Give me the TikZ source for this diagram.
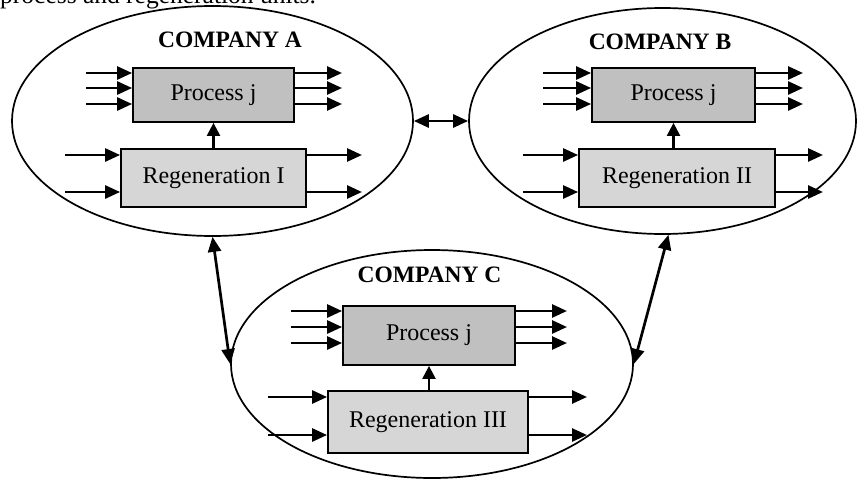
\documentclass[tikz,border=0pt]{standalone}
\usepackage{fontspec}
\setmainfont{Liberation Serif}
\usetikzlibrary{arrows.meta,shapes.geometric}
\definecolor{procfill}{RGB}{192,192,192}
\definecolor{regfill}{RGB}{214,214,214}
\tikzset{
  comp/.style={draw, ellipse, line width=1.7pt, inner sep=0pt},
  procbox/.style={draw, fill=procfill, line width=1.8pt, inner sep=0pt, font=\fontsize{24}{28}\selectfont},
  regbox/.style={draw, fill=regfill, line width=1.8pt, inner sep=0pt, font=\fontsize{24}{28}\selectfont},
  flow/.style={line width=2.7pt, -{Triangle[length=15pt,width=13pt]}},
  link/.style={line width=2.7pt, {Triangle[length=15pt,width=13pt]}-{Triangle[length=15pt,width=13pt]}},
  uparrow/.style={line width=2.3pt, -{Triangle[length=13pt,width=13pt]}},
  title/.style={font=\bfseries\fontsize{23.5}{26}\selectfont, anchor=base, inner sep=0pt},
  captext/.style={font=\fontsize{25.5}{28}\selectfont, anchor=base west, inner sep=0pt}
}
\begin{document}
\begin{tikzpicture}[x=1pt,y=-1pt]
\useasboundingbox (0,0) rectangle (858,479);
\clip (0,0) rectangle (858,479);
\node[captext] (cap) at (0,4) {process and regeneration units.};

% companies
\node[comp, minimum width=401pt, minimum height=230pt] (A) at (212.5,121) {};
\node[comp, minimum width=387pt, minimum height=226pt] (B) at (662.5,121) {};
\node[comp, minimum width=402pt, minimum height=228pt] (C) at (432,364) {};

\node[title] (tA) at (230,47) {COMPANY A};
\node[title] (tB) at (660,49) {COMPANY B};
\node[title] (tC) at (429.5,282) {COMPANY C};

% boxes
\node[procbox, minimum width=161pt, minimum height=54pt] (pA) at (213.5,95) {Process j};
\node[regbox, minimum width=185pt, minimum height=58pt] (rA) at (213.5,178) {Regeneration I};
\node[procbox, minimum width=163pt, minimum height=54pt] (pB) at (673.5,95) {Process j};
\node[regbox, minimum width=196pt, minimum height=58pt] (rB) at (677,178) {Regeneration II};
\node[procbox, minimum width=172pt, minimum height=59pt] (pC) at (429,335.5) {Process j};
\node[regbox, minimum width=200pt, minimum height=62pt] (rC) at (428,422) {Regeneration III};

% process flows
\foreach \y [count=\i] in {73,88,104} {
  \coordinate (aPi\i) at (86,\y);
  \coordinate (aPo\i) at (342,\y);
  \draw[flow] (aPi\i) -- (aPi\i -| pA.west);
  \draw[flow] (aPo\i -| pA.east) -- (aPo\i);
  \coordinate (bPi\i) at (543,\y);
  \coordinate (bPo\i) at (803,\y);
  \draw[flow] (bPi\i) -- (bPi\i -| pB.west);
  \draw[flow] (bPo\i -| pB.east) -- (bPo\i);
}
\foreach \y [count=\i] in {311,327,343} {
  \coordinate (cPi\i) at (291,\y);
  \coordinate (cPo\i) at (567,\y);
  \draw[flow] (cPi\i) -- (cPi\i -| pC.west);
  \draw[flow] (cPo\i -| pC.east) -- (cPo\i);
}
% regeneration flows
\foreach \y [count=\i] in {155,192} {
  \coordinate (aRi\i) at (65,\y);
  \coordinate (aRo\i) at (362,\y);
  \draw[flow] (aRi\i) -- (aRi\i -| rA.west);
  \draw[flow] (aRo\i -| rA.east) -- (aRo\i);
  \coordinate (bRi\i) at (523,\y);
  \coordinate (bRo\i) at (823,\y);
  \draw[flow] (bRi\i) -- (bRi\i -| rB.west);
  \draw[flow] (bRo\i -| rB.east) -- (bRo\i);
}
\foreach \y [count=\i] in {397,435} {
  \coordinate (cRi\i) at (268,\y);
  \coordinate (cRo\i) at (587,\y);
  \draw[flow] (cRi\i) -- (cRi\i -| rC.west);
  \draw[flow] (cRo\i -| rC.east) -- (cRo\i);
}

% regeneration to process
\draw[uparrow] (rA.north) -- (pA.south);
\draw[uparrow] (pB.south |- rB.north) -- (pB.south);
\draw[uparrow] (pC.south |- rC.north) -- (pC.south);

% links between companies
\draw[link] (A.east) -- (B.west);
\draw[link] (A.south) -- (C.west);
\draw[link] (B.-87) -- (C.east);
\end{tikzpicture}
\end{document}
